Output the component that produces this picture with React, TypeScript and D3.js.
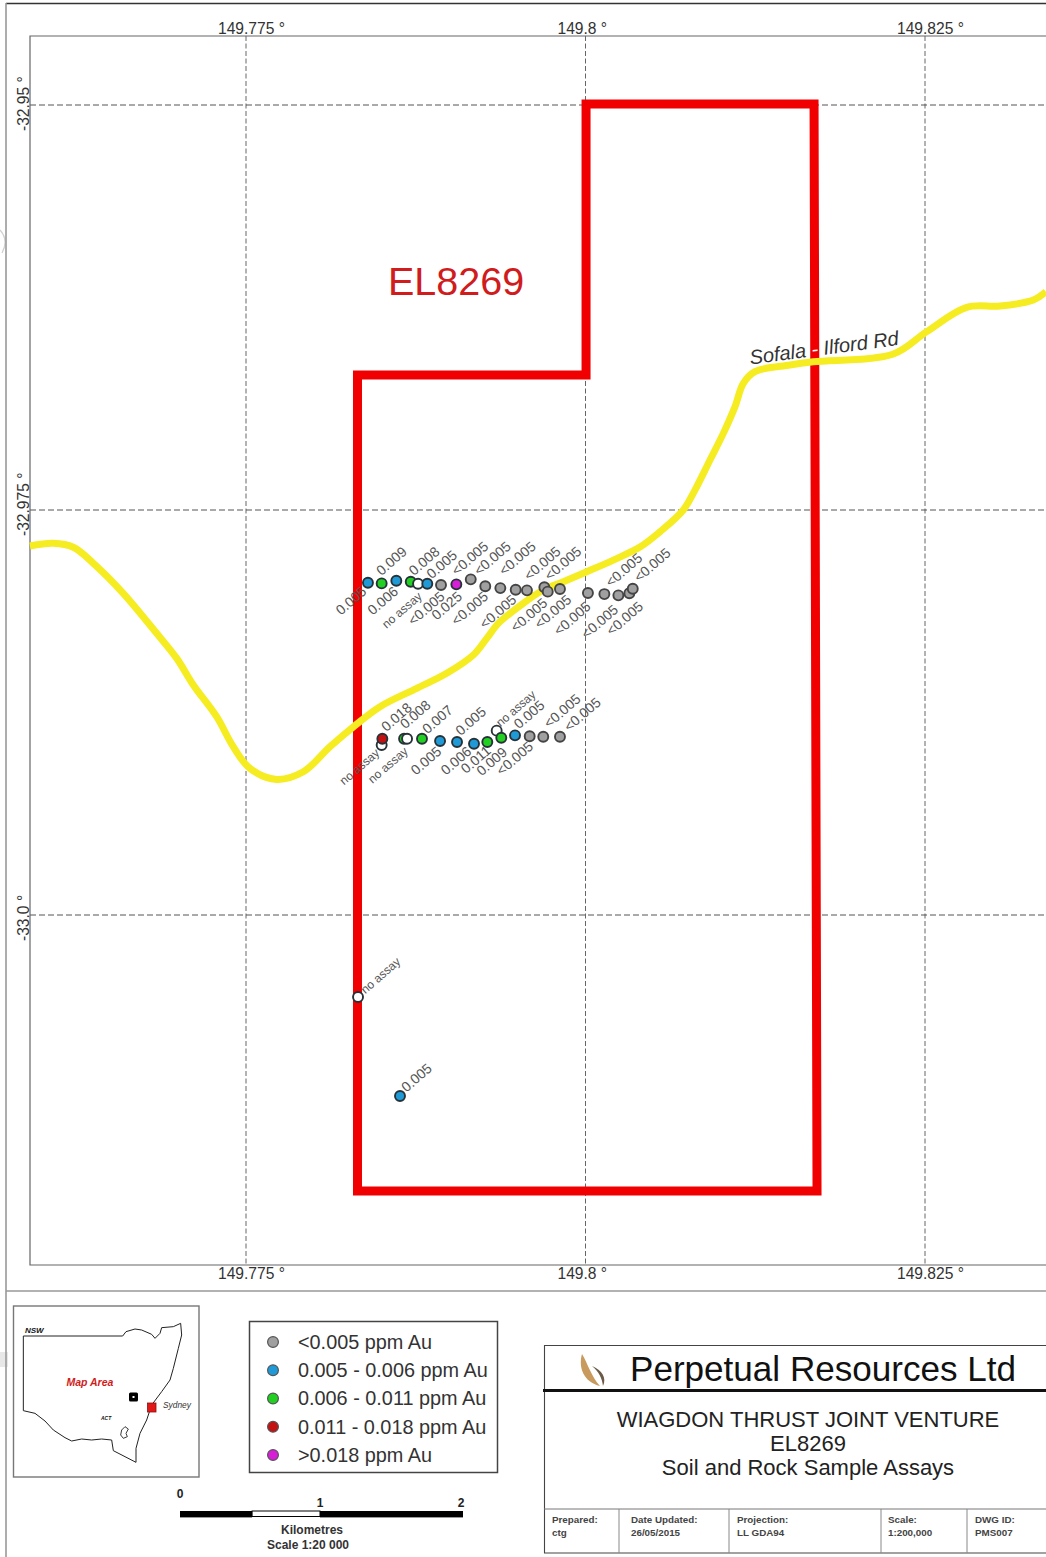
import React from "react";
import * as d3 from "d3";

const W = 1046, H = 1557;

const lonTicks = [149.775, 149.8, 149.825];
const lonTickLabels = ["149.775 °", "149.8 °", "149.825 °"];
const latTicks = [-32.95, -32.975, -33.0];
const latTickLabels = ["-32.95 °", "-32.975 °", "-33.0 °"];

const tenement: [number, number][] = [
  [149.78321, -32.96667], [149.80004, -32.96667], [149.80004, -32.94994], [149.81683, -32.94994],
  [149.81705, -33.01704], [149.78321, -33.01704],
];

const road: [number, number][] = [
  [149.75909, -32.97722], [149.76081, -32.97706], [149.76228, -32.9773], [149.76376, -32.97829],
  [149.76596, -32.98014], [149.76842, -32.98261], [149.7699, -32.98416], [149.77112, -32.9858],
  [149.77284, -32.98776], [149.77406, -32.98961], [149.77529, -32.99095], [149.77726, -32.99163],
  [149.77922, -32.99116], [149.78119, -32.98961], [149.78303, -32.9883], [149.78487, -32.98714],
  [149.78757, -32.98601], [149.78978, -32.98508], [149.79174, -32.98395], [149.79273, -32.98292],
  [149.79358, -32.982], [149.79542, -32.98076], [149.79689, -32.97994], [149.79837, -32.97943],
  [149.80009, -32.97881], [149.80205, -32.97809], [149.80401, -32.97729], [149.80549, -32.97634],
  [149.8072, -32.975], [149.80806, -32.97377], [149.80917, -32.97191], [149.81015, -32.97027],
  [149.81101, -32.96862], [149.81162, -32.96718], [149.81248, -32.96646], [149.81506, -32.96605],
  [149.81678, -32.96585], [149.82267, -32.96537], [149.82513, -32.96399], [149.82807, -32.96249],
  [149.83052, -32.96241], [149.83298, -32.96204], [149.83391, -32.96153],
];

type Cls = "grey" | "blue" | "green" | "red" | "magenta" | "none";
const classColours: Record<Cls, string> = {
  grey: "#a0a0a0", blue: "#1f9ad6", green: "#22d022", red: "#c41212", magenta: "#d81fd8", none: "#ffffff",
};

const northSamples: [number, number, Cls][] = [
  [149.78398, -32.97949, "blue"], [149.78499, -32.97953, "green"], [149.78607, -32.97937, "blue"],
  [149.78713, -32.97943, "green"], [149.78767, -32.97955, "none"], [149.78835, -32.97955, "blue"],
  [149.78936, -32.97963, "grey"], [149.79049, -32.97959, "magenta"], [149.79155, -32.97928, "grey"],
  [149.79262, -32.97971, "grey"], [149.79373, -32.97982, "grey"], [149.79486, -32.97992, "grey"],
  [149.79569, -32.97996, "grey"], [149.79697, -32.97977, "grey"], [149.79722, -32.98004, "grey"],
  [149.79812, -32.97988, "grey"], [149.80018, -32.98012, "grey"], [149.80139, -32.98019, "grey"],
  [149.80242, -32.98027, "grey"], [149.80323, -32.98014, "grey"], [149.80348, -32.97986, "grey"],
];

const southSamples: [number, number, Cls][] = [
  [149.78499, -32.98951, "none"], [149.78504, -32.98912, "red"], [149.78664, -32.98912, "green"],
  [149.78686, -32.98912, "none"], [149.78796, -32.98912, "green"], [149.78929, -32.98926, "blue"],
  [149.79054, -32.98932, "blue"], [149.79179, -32.98943, "blue"], [149.79277, -32.98932, "green"],
  [149.79346, -32.98862, "none"], [149.7938, -32.98906, "green"], [149.79481, -32.98891, "blue"],
  [149.79589, -32.98897, "grey"], [149.79689, -32.989, "grey"], [149.79812, -32.989, "grey"],
];

const isolatedSamples: [number, number, Cls][] = [
  [149.78325, -33.00506, "none"], [149.78634, -33.01117, "blue"],
];

// assay labels reading outward (up-right) from the given map position
const labelsUp: [string, number, number][] = [
  ["0.009", 149.78479, -32.97891], ["0.008", 149.7872, -32.97891], ["0.005", 149.7885, -32.97912],
  ["<0.005", 149.79034, -32.97891], ["<0.005", 149.79199, -32.97891], ["<0.005", 149.79383, -32.97891],
  ["<0.005", 149.79567, -32.97922], ["<0.005", 149.79719, -32.97922], ["<0.005", 149.80168, -32.97963],
  ["<0.005", 149.80377, -32.97932],
  ["0.018", 149.78516, -32.98854], ["0.008", 149.78654, -32.98838], ["0.007", 149.78818, -32.98869],
  ["0.005", 149.79063, -32.98879], ["no assay", 149.79358, -32.98827], ["0.005", 149.79493, -32.98838],
  ["<0.005", 149.79714, -32.98833], ["<0.005", 149.79862, -32.98854],
  ["no assay", 149.78362, -33.00475], ["0.005", 149.78664, -33.0108],
];

// assay labels ending (down-left side) at the given map position
const labelsDown: [string, number, number][] = [
  ["0.005", 149.78376, -32.97994], ["0.006", 149.7861, -32.97994], ["no assay", 149.78786, -32.98025],
  ["<0.005", 149.78953, -32.98025], ["0.025", 149.79081, -32.98025], ["<0.005", 149.79273, -32.98025],
  ["<0.005", 149.79481, -32.98045], ["<0.005", 149.79709, -32.98066], ["<0.005", 149.79886, -32.98045],
  ["<0.005", 149.80028, -32.98087], ["<0.005", 149.8023, -32.98107], ["<0.005", 149.80414, -32.98087],
  ["no assay", 149.78474, -32.98992], ["no assay", 149.78683, -32.98982], ["0.005", 149.78929, -32.98982],
  ["0.006", 149.7915, -32.98982], ["0.011", 149.79292, -32.98977], ["0.009", 149.79412, -32.98986],
  ["<0.005", 149.79604, -32.98951],
];

const legendLabels = [
  "<0.005 ppm Au", "0.005 - 0.006 ppm Au", "0.006 - 0.011 ppm Au", "0.011 - 0.018 ppm Au", ">0.018 ppm Au",
];
const legendClasses: Cls[] = ["grey", "blue", "green", "red", "magenta"];

// locator map, in its own 575 x 525 drawing units
const nswOutline: [number, number][] = [
  [40, 93], [338, 93], [348, 80], [375, 72], [395, 75], [425, 88], [435, 100], [450, 85], [455, 68],
  [490, 65], [512, 55], [515, 90], [505, 130], [490, 190], [480, 225], [455, 260], [425, 300], [410, 345],
  [390, 385], [378, 430], [378, 472], [310, 437], [305, 405], [275, 402], [245, 405], [215, 402], [185, 408],
  [165, 398], [130, 375], [105, 348], [75, 325], [40, 317], [40, 93],
];
const actOutline: [number, number][] = [
  [335, 375], [345, 365], [355, 372], [348, 385], [352, 395], [340, 400], [332, 390],
];

const scaleKm = [0, 1, 2];
const scaleSegments: [number, number, string][] = [[0, 0.515, "#000"], [0.515, 1, "#fff"], [1, 2, "#000"]];

const titleLines = ["WIAGDON THRUST JOINT VENTURE", "EL8269", "Soil and Rock Sample Assays"];
const infoHeads = ["Prepared:", "Date Updated:", "Projection:", "Scale:", "DWG ID:"];
const infoValues = ["ctg", "26/05/2015", "LL GDA94", "1:200,000", "PMS007"];

const FONT = "'Liberation Sans', Arial, sans-serif";

const x = d3.scaleLinear().domain([149.775, 149.825]).range([246, 925]);
const y = d3.scaleLinear().domain([-32.95, -33.0]).range([105, 915]);
const insetX = d3.scaleLinear().domain([0, 575]).range([10, 201.67]);
const insetY = d3.scaleLinear().domain([0, 525]).range([1305, 1480]);
const kmX = d3.scaleLinear().domain([0, 1, 2]).range([180, 320, 463]);

const mapLine = d3.line<[number, number]>().x((d) => x(d[0])).y((d) => y(d[1]));
const roadLine = d3.line<[number, number]>().x((d) => x(d[0])).y((d) => y(d[1])).curve(d3.curveCatmullRom.alpha(0.5));
const insetLine = d3.line<[number, number]>().x((d) => insetX(d[0])).y((d) => insetY(d[1]));

const legendY = d3.scalePoint<string>().domain(legendLabels).range([1342, 1455]);
const titleY = d3.scalePoint<string>().domain(titleLines).range([1427, 1475]);
const infoX = [552, 631, 737, 888, 975];
const infoRules = [619, 729, 881, 967];

const plotLeft = 30, plotTop = 36, plotBottom = 1265;

function Marker({ s }: { s: [number, number, Cls] }) {
  const stroke = s[2] === "grey" ? "#444" : "#263238";
  return <circle cx={x(s[0])} cy={y(s[1])} r={5} fill={classColours[s[2]]} stroke={stroke} strokeWidth={1.9} />;
}

export default function App() {
  const allSamples = [...northSamples, ...southSamples, ...isolatedSamples];
  return (
    <svg
      width={W}
      height={H}
      viewBox={`0 0 ${W} ${H}`}
      style={{ position: "absolute", left: 0, top: 0, background: "#fff", fontFamily: FONT }}
    >
      {/* scan marks on the page edge */}
      <path d="M0 230 Q9 240 2 253" fill="none" stroke="#cfcfcf" strokeWidth={1.2} />
      <rect x={0} y={1352} width={8} height={15} fill="#e8e8e8" />

      {/* sheet frame */}
      <line x1={6} x2={W} y1={3.5} y2={3.5} stroke="#333" strokeWidth={1.5} />
      <line x1={6} x2={6} y1={3} y2={H} stroke="#999" strokeWidth={1.6} />
      <line x1={6} x2={W} y1={1291} y2={1291} stroke="#999" strokeWidth={1.5} />

      {/* graticule */}
      {lonTicks.map((t) => (
        <line key={t} x1={x(t)} x2={x(t)} y1={plotTop} y2={plotBottom} stroke="#666" strokeWidth={1} strokeDasharray="5 2.5" />
      ))}
      {latTicks.map((t) => (
        <line key={t} x1={plotLeft} x2={W} y1={y(t)} y2={y(t)} stroke="#555" strokeWidth={1} strokeDasharray="6 3" />
      ))}
      <path d={`M${W} ${plotTop}H${plotLeft}V${plotBottom}H${W}`} fill="none" stroke="#666" strokeWidth={1.2} />

      {lonTicks.map((t, i) => (
        <g key={t} fontSize={15.6} fill="#333">
          <text x={x(t) - 28} y={34}>{lonTickLabels[i]}</text>
          <text x={x(t) - 28} y={1279}>{lonTickLabels[i]}</text>
        </g>
      ))}
      {latTicks.map((t, i) => (
        <text key={t} transform={`translate(28.5,${y(t) + 26}) rotate(-90)`} fontSize={15.6} fill="#333">
          {latTickLabels[i]}
        </text>
      ))}

      {/* tenement */}
      <path d={mapLine(tenement) + "Z"} fill="none" stroke="#f00000" strokeWidth={9} strokeLinejoin="miter" />
      <text x={388} y={295} fontSize={39.5} fill="#d01c1c">EL8269</text>

      {/* road */}
      <path d={roadLine(road)!} fill="none" stroke="#f6ec22" strokeWidth={7} strokeLinecap="butt" strokeLinejoin="round" />
      <text transform="translate(750.5,364.5) rotate(-7.5)" fontSize={20} fontStyle="italic" fill="#333">
        Sofala <tspan fill="#fff">-</tspan> Ilford Rd
      </text>

      {/* samples */}
      {allSamples.map((s, i) => (
        <Marker key={i} s={s} />
      ))}
      {labelsUp.map(([t, lon, lat], i) => (
        <text
          key={i}
          transform={`translate(${x(lon)},${y(lat)}) rotate(-41)`}
          fontSize={t === "no assay" ? 12 : 14}
          dominantBaseline="middle"
          fill="#555"
        >
          {t}
        </text>
      ))}
      {labelsDown.map(([t, lon, lat], i) => (
        <text
          key={i}
          transform={`translate(${x(lon)},${y(lat)}) rotate(-41)`}
          fontSize={t === "no assay" ? 12 : 14}
          dominantBaseline="middle"
          textAnchor="end"
          fill="#555"
        >
          {t}
        </text>
      ))}

      {/* locator map */}
      <rect x={13.5} y={1306} width={185.5} height={171} fill="#fff" stroke="#777" strokeWidth={1.4} />
      <path d={insetLine(nswOutline)!} fill="none" stroke="#222" strokeWidth={1} />
      <path d={insetLine(actOutline) + "Z"} fill="none" stroke="#222" strokeWidth={0.9} />
      <text x={25} y={1333} fontSize={8} fontWeight="bold" fontStyle="italic" fill="#111">NSW</text>
      <text x={66.5} y={1386} fontSize={10.5} fontWeight="bold" fontStyle="italic" fill="#d01c1c">Map Area</text>
      <text x={101} y={1420} fontSize={5} fontWeight="bold" fontStyle="italic" fill="#111">ACT</text>
      <text x={163} y={1408} fontSize={8.4} fontStyle="italic" fill="#333">Sydney</text>
      <rect x={129} y={1392.5} width={9} height={9} rx={1.5} fill="#000" />
      <rect x={132.5} y={1396} width={2} height={2} fill="#fff" />
      <rect x={147.5} y={1403} width={8.5} height={9} fill="#e01818" stroke="#8c1010" strokeWidth={0.8} />

      {/* legend */}
      <rect x={249.5} y={1321.5} width={248} height={151} fill="#fff" stroke="#444" strokeWidth={1.5} />
      {legendLabels.map((l, i) => (
        <g key={l}>
          <circle cx={273} cy={legendY(l)!} r={5.4} fill={classColours[legendClasses[i]]} stroke="#555" strokeWidth={1.2} />
          <text x={298} y={legendY(l)! + 6.8} fontSize={19.85} fill="#333">{l}</text>
        </g>
      ))}

      {/* scale bar */}
      {scaleSegments.map(([a, b, c]) => (
        <rect key={a} x={kmX(a)} y={1511} width={kmX(b) - kmX(a)} height={c === "#000" ? 6 : 5.5} fill={c} stroke="#000" strokeWidth={c === "#000" ? 0 : 1} />
      ))}
      <line x1={kmX(0)} x2={kmX(0.515)} y1={1517.5} y2={1517.5} stroke="#999" strokeWidth={1} />
      <line x1={kmX(1)} x2={kmX(2)} y1={1517.5} y2={1517.5} stroke="#999" strokeWidth={1} />
      {scaleKm.map((k) => (
        <text key={k} x={kmX(k) - (k === 2 ? 2 : 0)} y={k === 0 ? 1498 : 1507} fontSize={12} fontWeight="bold" textAnchor="middle" fill="#222">
          {k}
        </text>
      ))}
      <text x={312} y={1534} fontSize={12} fontWeight="bold" textAnchor="middle" fill="#333">Kilometres</text>
      <text x={308} y={1549} fontSize={12} fontWeight="bold" textAnchor="middle" fill="#333">Scale 1:20 000</text>

      {/* title block */}
      <path d={`M${W} 1345.5H544.5V1553H${W}`} fill="none" stroke="#444" strokeWidth={1.1} />
      <line x1={543} x2={W} y1={1390.5} y2={1390.5} stroke="#111" strokeWidth={3} />
      <line x1={544} x2={W} y1={1509} y2={1509} stroke="#777" strokeWidth={1} />
      {infoRules.map((r) => (
        <line key={r} x1={r} x2={r} y1={1509} y2={1553} stroke="#888" strokeWidth={1} />
      ))}
      <path d="M582 1354 C578 1368 584 1382 600 1386 C591 1376 588 1364 582 1354Z" fill="#c89a5e" />
      <path d="M592 1366 C602 1370 607 1378 603 1386 C602 1378 599 1372 592 1366Z" fill="#6b5a48" />
      <text x={630} y={1381} fontSize={35.1} fill="#111">Perpetual Resources Ltd</text>
      {titleLines.map((t) => (
        <text key={t} x={808} y={titleY(t)!} fontSize={22} textAnchor="middle" fill="#222">{t}</text>
      ))}
      {infoHeads.map((h, i) => (
        <g key={h} fontSize={9.8} fontWeight="bold" fill="#444">
          <text x={infoX[i]} y={1523}>{h}</text>
          <text x={infoX[i]} y={1535.5}>{infoValues[i]}</text>
        </g>
      ))}
    </svg>
  );
}
